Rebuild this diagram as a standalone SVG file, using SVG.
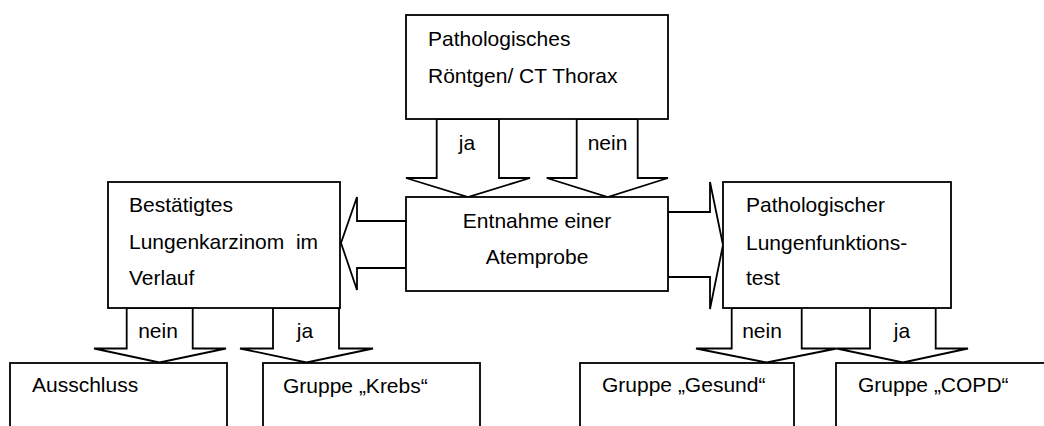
<svg xmlns="http://www.w3.org/2000/svg" width="1044" height="426" viewBox="0 0 1044 426">
<style>
.box{fill:#fff;stroke:#000;stroke-width:1.8}
.arr{fill:#fff;stroke:#000;stroke-width:1.8;stroke-linejoin:miter}
text{font-family:"Liberation Sans",Arial,sans-serif;font-size:21px;fill:#000;white-space:pre}
.c{text-anchor:middle}
</style>
<rect width="1044" height="426" fill="#fff"/>
<g id="connectors">
<polygon class="arr" points="436.7,119 436.7,178 406,178 468,197 530,178 499,178 499,119"/>
<polygon class="arr" points="576.7,119 576.7,178 546.7,178 607.7,197 668,178 637.7,178 637.7,119"/>
<polygon class="arr" points="406,221 357,221 357,197 341,243 357,290 357,268 406,268"/>
<polygon class="arr" points="668,212 710,212 710,182 723,245 710,309 710,277 668,277"/>
<polygon class="arr" points="126.7,308 126.7,348.5 94,348.5 159.5,362.5 226,348.5 192.7,348.5 192.7,308"/>
<polygon class="arr" points="273,308 273,348.5 240,348.5 306.5,362.5 373,348.5 339,348.5 339,308"/>
<polygon class="arr" points="731.7,308 731.7,348.5 696,348.5 766.7,362.5 836.7,348.5 801.7,348.5 801.7,308"/>
<polygon class="arr" points="870,308 870,348.5 836.7,348.5 903,362.5 968,348.5 935.7,348.5 935.7,308"/>
<text class="c" x="467" y="150">ja</text>
<text class="c" x="607.5" y="150">nein</text>
<text class="c" x="158" y="338">nein</text>
<text class="c" x="305" y="338">ja</text>
<text class="c" x="762" y="338">nein</text>
<text class="c" x="902" y="338">ja</text>
</g>
<g id="node-roentgen">
<rect class="box" x="406" y="15" width="262" height="104"/>
<text x="428" y="45.5">Pathologisches</text>
<text x="428" y="83">Röntgen/ CT Thorax</text>
</g>
<g id="node-atemprobe">
<rect class="box" x="406" y="197" width="262" height="94"/>
<text class="c" x="537" y="228">Entnahme einer</text>
<text class="c" x="537" y="264">Atemprobe</text>
</g>
<g id="node-karzinom">
<rect class="box" x="108" y="182" width="232" height="126"/>
<text x="129" y="212">Bestätigtes</text>
<text x="129" y="249">Lungenkarzinom  im</text>
<text x="129" y="285">Verlauf</text>
</g>
<g id="node-lufu">
<rect class="box" x="723" y="182" width="228" height="126"/>
<text x="746" y="212">Pathologischer</text>
<text x="746" y="250">Lungenfunktions-</text>
<text x="746" y="285">test</text>
</g>
<g id="node-ausschluss">
<rect class="box" x="10" y="363" width="217" height="80"/>
<text x="32" y="392">Ausschluss</text>
</g>
<g id="node-krebs">
<rect class="box" x="263" y="363" width="217" height="80"/>
<text x="283" y="393">Gruppe „Krebs“</text>
</g>
<g id="node-gesund">
<rect class="box" x="580" y="363" width="214" height="80"/>
<text x="602" y="392">Gruppe „Gesund“</text>
</g>
<g id="node-copd">
<rect class="box" x="836" y="363" width="220" height="80"/>
<text x="858" y="392">Gruppe „COPD“</text>
</g>
</svg>
